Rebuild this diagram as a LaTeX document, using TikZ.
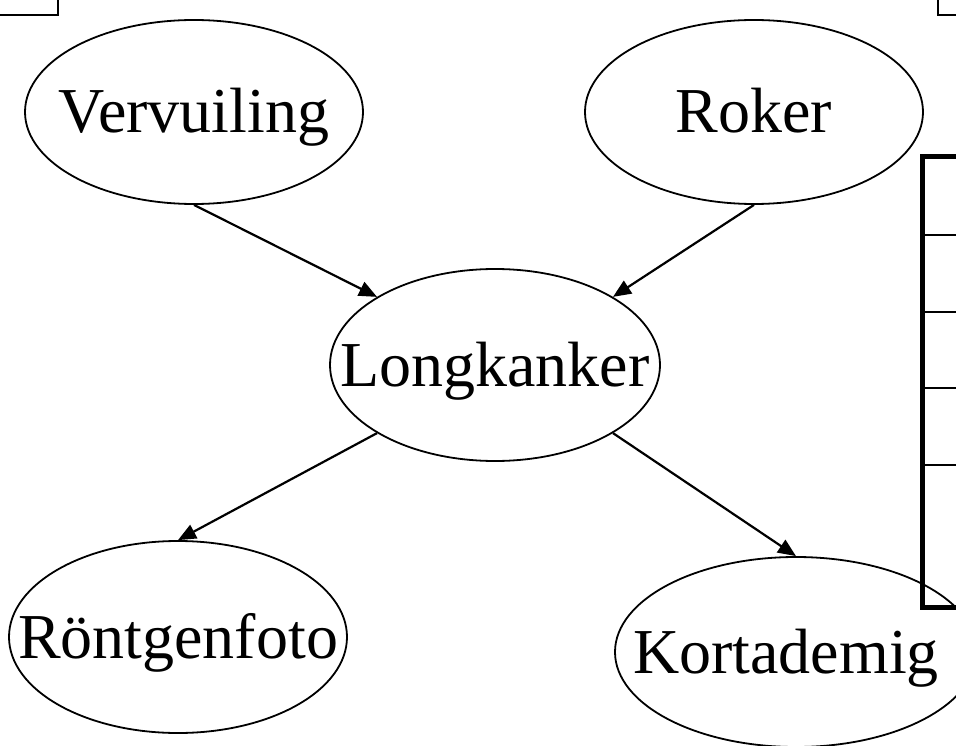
\documentclass[tikz,border=0pt]{standalone}
\usepackage{fontspec}
\setmainfont{Liberation Serif}
\usetikzlibrary{shapes.geometric,arrows.meta}

\begin{document}
\begin{tikzpicture}[x=1pt,y=-1pt,
        var/.style={draw,ellipse,line width=1.8pt,inner sep=0pt},
        every label/.style={font=\fontsize{64}{70}\selectfont,text height=42pt,text depth=0pt,inner sep=0pt},
        edge/.style={-{Triangle[length=18pt,width=15pt]},line width=2.2pt}]
    \useasboundingbox (0,0) rectangle (956,746);
    \clip (0,0) rectangle (956,746);
    % causes
    \node[var,minimum width=338pt,minimum height=184pt,label=center:Vervuiling] (vervuiling) at (194,112) {};
    \node[var,minimum width=338pt,minimum height=184pt,label=center:Roker] (roker) at (754,112) {};
    % disease
    \node[var,minimum width=330pt,minimum height=192pt,label=center:Longkanker] (longkanker) at (495,365) {};
    % symptoms
    \node[var,minimum width=338pt,minimum height=192pt,label=center:Röntgenfoto] (roentgen) at (178,637) {};
    \node[var,minimum width=362pt,minimum height=190pt,label={[xshift=-10pt]center:Kortademig}] (kortademig) at (796,652) {};
    \draw[edge] (vervuiling.south) -- (longkanker.150);
    \draw[edge] (roker.south) -- (longkanker.30);
    \draw[edge] (longkanker.210) -- (roentgen.north);
    \draw[edge] (longkanker.330) -- (kortademig.north);
    % boxes at the edges
    \draw[line width=2pt] (-5,-5) rectangle (58,15);
    \draw[line width=2pt] (962,-5) rectangle (938,15);
    \draw[line width=5pt] (962,157) -| (922,607) -- (962,607);
    \foreach \y in {235,312,388,465}
        \draw[line width=2pt] (922,\y) -- (962,\y);
\end{tikzpicture}
\end{document}
